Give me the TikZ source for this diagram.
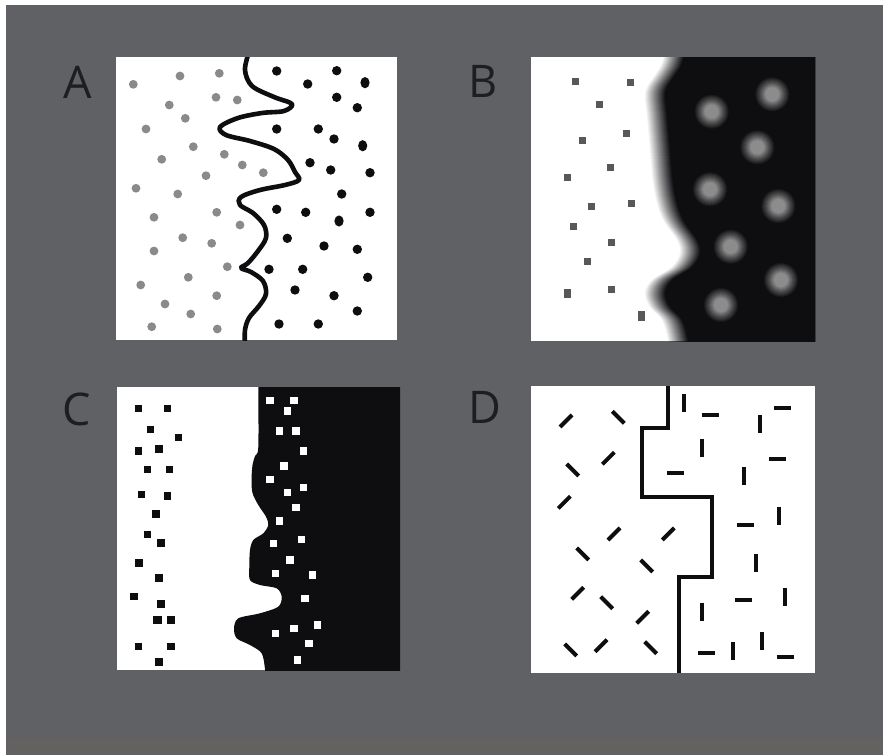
\documentclass[tikz,border=0pt]{standalone}
\usepackage{fontspec}
\newfontfamily\labfont{Open Sans}
\definecolor{bggray}{RGB}{95,97,100}
\definecolor{bgband}{RGB}{99,98,97}
\definecolor{dotgray}{RGB}{138,138,138}
\definecolor{ink}{RGB}{14,14,16}
\definecolor{sqgray}{RGB}{88,88,88}
\definecolor{blobc}{RGB}{140,140,140}
\definecolor{labc}{RGB}{30,30,32}
\tikzset{
  lab/.style={font=\labfont\fontsize{45}{45}\selectfont, text=labc, inner sep=0pt, anchor=base west},
  wave/.style={draw=ink, line width=4.6pt, line cap=butt, line join=round},
  stepline/.style={draw=ink, line width=4pt, line join=miter},
  mark line/.style={draw=ink, line width=4pt, line cap=butt},
}
\begin{document}
\begin{tikzpicture}[x=1pt,y=-1pt]
\useasboundingbox (0,0) rectangle (883,755);
\fill[white] (0,0) rectangle (883,755);
\fill[bggray] (6,5) rectangle (883,755);
\fill[bgband] (6,738) rectangle (883,755);

% ---------- Panel A ----------
\fill[white] (116,57) rectangle (397,340);
\foreach \x/\y in {133.3/84.3,180/76,219.3/73.3,169.3/105,216/97.3,237.3/100,185.3/118.3,146/129,193.3/146.7,161.7/159.3,224.3/154.3,242.3/165,263.3/172.7,206/175.7,136/188.3,177.7/194,154/217.3,216.7/212.3,240/225,182.7/237.7,211.7/243.3,154/251,227.3/266.7,188.3/277.3,140.7/285,216.7/295.7,165/304,190.7/314,151.7/326.7,217.3/329}
  \fill[dotgray] (\x,\y) circle (4.4pt);
\foreach \x/\y in {276.7/71,336.7/70.7,307.7/84,336.7/97.3,357.3/107.7,276.7/129,318.3/129,334/139,310/162.7,330.7/170,370/172.7,341.7/194,276.7/209.3,305.7/212.3,370/212.3,287.3/238.3,324/246,357.3/249.3,269/269.3,302.7/269.3,367.7/277.3,295/290,334/295.7,357.3/311,279/324,318.3/324}
  \fill[ink] (\x,\y) circle (4.7pt);
\foreach \x/\y in {365/82.7,362.7/145.7,339/221}
  \fill[ink] (\x,\y) ellipse (4.6pt and 5.6pt);
\begin{scope}
\clip (116,57) rectangle (397,340);
\draw[wave] plot[smooth, tension=0.55] coordinates {(249,52) (245,70) (252,86) (274,97) (292,104) (284,111) (262,113) (238,118) (220,127) (226,135) (250,141) (274,149) (288,160) (295,172) (299,180) (285,185) (260,190) (241,197) (240,205) (253,213) (264,225) (266,238) (258,251) (248,263) (241,268) (251,272) (263,281) (266,294) (259,306) (249,318) (245,330) (245,345)};
\end{scope}
\node[lab] (labA) at (63,98) {A};

% ---------- Panel B ----------
\begin{scope}
\clip (531,57) rectangle (815,341);
\fill[white] (531,57) rectangle (815,341);
\foreach \s [count=\k from 0] in {-10,-9,...,10}{
  \pgfmathsetmacro\op{1/(21-\k)}
  \fill[ink, opacity=\op, shift={(\s,0)}] plot[smooth, tension=0.6] coordinates {(676,45) (672,63) (665,75) (657,87) (655,97) (657,117) (660,150) (663,183) (668,207) (675,223) (687,240) (690,253) (682,267) (662,280) (655,293) (660,307) (672,320) (678,340) (680,355)} -- (840,355) -- (840,45) -- cycle;
}
\end{scope}
\foreach \x/\y in {711.7/111.7,772.3/94.3,757.3/147.3,710/189.3,778.3/206,730.7/246.7,781/280,721/305}{
  \foreach \r [count=\k from 0] in {17,16,...,7}{
    \pgfmathsetmacro\op{1/(11-\k)}
    \fill[blobc, opacity=\op] (\x,\y) circle (\r pt);
  }
}
\foreach \x/\y in {575/81,630/82.7,599/104.3,626.7/133.3,582.3/140.7,610/167.3,567.7/177.3,631.7/203.3,591.7/206.7,573.3/226.7,611.7/242.7,587.7/261,611.7/289.3}
  \fill[sqgray] (\x-3.5,\y-3.5) rectangle ++(7,7);
\fill[sqgray] (567.7-3.5,293.3-4.5) rectangle ++(7,9);
\fill[sqgray] (641-3.5,316-5) rectangle ++(7,10);
\node[lab] (labB) at (468,97) {B};

% ---------- Panel C ----------
\begin{scope}
\clip (117,387) rectangle (400,670);
\fill[white] (117,387) rectangle (400,670);
\fill[ink] plot[smooth, tension=0.5] coordinates {(258.3,380) (258.3,387) (258.3,447) (255,456) (252.5,465) (251.5,480) (252.5,493) (258.3,505) (266,516.7) (268.3,525) (263.3,533.3) (253.3,540) (250,550) (249.3,566.7) (250,580) (260,585) (276.7,588.3) (281.7,596.7) (278.3,606.7) (260,613.3) (238.3,618.3) (234,628.3) (236.7,638.3) (250,645) (261.7,653.3) (265,669.3) (265,680)} -- (410,680) -- (410,380) -- cycle;
\foreach \x/\y in {138.3/408.3,167.7/408.3,150.7/429.3,178.3/437.3,138.3/451,147.3/469.3,169.3/469.3,141.7/494.3,167.7/496,147.3/534.3,134/596.7,171/620,138.3/646.7,171/646.7}
  \fill[ink] (\x-3.6,\y-3.6) rectangle ++(7.2,7.2);
\foreach \x/\y in {159/449.3,155.7/514.3,161/543.3,139/563.3,159/577.7,161/604.3,157.3/620,159/661.7}
  \fill[ink] (\x-4.2,\y-4) rectangle ++(8.4,8);
\foreach \x/\y in {270/400.7,294/400.7,287.7/411,279.3/431,296/431,303.3/451,284/466,270/479.3,287.7/492.7,303.3/487.7,296/507.7,279.3/521,301.7/539.3,273.3/543.3,290/560,275.7/573.3,312.3/575,305/598.3,317.7/625,294/628.3,275.7/633.3,309/643.3,297.7/660}
  \fill[white] (\x-3.7,\y-3.7) rectangle ++(7.4,7.4);
\end{scope}
\node[lab] (labC) at (62,425) {C};

% ---------- Panel D ----------
\fill[white] (531,386) rectangle (815,673);
\draw[stepline] (668.3,386) -- (668.3,428.3) -- (641.7,428.3) -- (641.7,497.3) -- (711.7,497.3) -- (711.7,576.7) -- (679,576.7) -- (679,673);
\foreach \x/\y in {566/421,608.3/458.3,564.3/502.3,614/534,668.3/534,577.7/593.3,642.7/617.3,601/645.7}
  \draw[mark line] (\x-6,\y+6) -- (\x+6,\y-6);
\foreach \x/\y in {618.3/417.3,572.7/470,582.7/554,646.7/566,606.7/602.7,570.7/650,650.7/647.7}
  \draw[mark line] (\x-6,\y-6) -- (\x+6,\y+6);
\foreach \x/\y in {710/415,782.7/407.7,777.3/459.3,675.7/473.3,745.7/525,743.3/600,706.7/652.7,785/657.3}
  \draw[mark line] (\x-8.5,\y) -- (\x+8.5,\y);
\foreach \x/\y in {684.3/403.3,760/424,701.7/448.3,744/476,779/515.7,755.7/562.7,785/596.7,702.3/611.7,761.7/640.7,733.3/651}
  \draw[mark line] (\x,\y-9) -- (\x,\y+9);
\node[lab] (labD) at (468,423) {D};
\end{tikzpicture}
\end{document}
